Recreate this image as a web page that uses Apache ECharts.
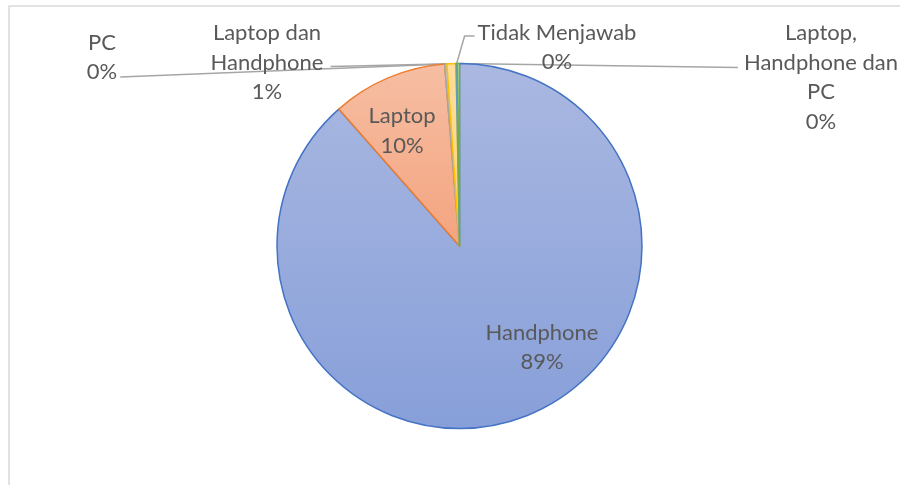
<!DOCTYPE html>
<html>
<head>
<meta charset="utf-8">
<script src="https://cdn.jsdelivr.net/npm/echarts@6/dist/echarts.min.js"></script>
<style>
  html, body { margin: 0; padding: 0; background: #ffffff; }
  #chart { width: 900px; height: 485px; }
</style>
</head>
<body>
<div id="chart"></div>
<script>
// Device used by respondents (share of answers, %)
const categories = [
  'Handphone',
  'Laptop',
  'PC',
  'Laptop dan\nHandphone',
  'Tidak Menjawab',
  'Laptop,\nHandphone dan\nPC'
];
const shares = [88.5, 10.2, 0.2, 0.8, 0.1, 0.2];

// Slice outline and gradient fill colours
const edgeColors = ['#4472C4', '#ED7D31', '#A5A5A5', '#FFC000', '#5B9BD5', '#70AD47'];
const fillTop    = ['#AAB8E1', '#F6BEA3', '#CBCBCB', '#FFDD9A', '#A9C9E8', '#B3D69C'];
const fillBottom = ['#879FD9', '#F4A47F', '#B9B9B9', '#FFD27A', '#8DB8E2', '#9CC97E'];

const total = shares.reduce((a, b) => a + b, 0);
const pctText = v => Math.round(+(v / total * 100).toFixed(6)) + '%';

// Centre of each label block (px)
const labelAnchors = [
  [542, 347.5],
  [402, 131],
  [102, 57.5],
  [267, 62.5],
  [557, 47.5],
  [821, 77.5]
];

const chart = echarts.init(document.getElementById('chart'), null, { renderer: 'canvas' });

const data = categories.map((name, i) => ({
  name: name,
  value: shares[i],
  itemStyle: {
    borderColor: edgeColors[i],
    borderWidth: 1.5,
    color: {
      type: 'linear', x: 0, y: 0, x2: 0, y2: 1,
      colorStops: [
        { offset: 0, color: fillTop[i] },
        { offset: 1, color: fillBottom[i] }
      ]
    }
  },
  labelLine: { show: i >= 2 }
}));

chart.setOption({
  animation: false,
  backgroundColor: '#ffffff',
  graphic: [{
    type: 'rect',
    silent: true,
    shape: { x: 9, y: 6, width: 920, height: 500 },
    style: { fill: 'none', stroke: '#D9D9D9', lineWidth: 1.5 }
  }],
  series: [{
    type: 'pie',
    center: [459.5, 246],
    radius: 182.5,
    startAngle: 90,
    clockwise: true,
    avoidLabelOverlap: false,
    minShowLabelAngle: 0,
    emphasis: { disabled: true },
    data: data,
    label: {
      show: true,
      position: 'outside',
      formatter: p => p.name + '\n' + pctText(p.value),
      fontFamily: 'Lato',
      fontSize: 22,
      lineHeight: 29.5,
      color: '#595959',
      align: 'center'
    },
    labelLine: {
      show: true,
      smooth: false,
      lineStyle: { color: '#A6A6A6', width: 1.5 }
    },
    labelLayout: function (p) {
      const i = p.dataIndex;
      const cx = labelAnchors[i][0];
      const cy = labelAnchors[i][1];
      const w = p.labelRect.width;
      const h = p.labelRect.height;
      const out = { x: cx, y: cy, align: 'center', verticalAlign: 'middle' };
      const pts = p.labelLinePoints;
      if (pts && pts.length) {
        const s = pts[0];
        if (i === 2) {
          out.labelLinePoints = [s, [cx + w / 2 + 3, cy + h / 2 - 10]];
        } else if (i === 3) {
          out.labelLinePoints = [s, [cx + w / 2 + 7, cy + 4]];
        } else if (i === 4) {
          const ex = cx - w / 2 - 3;
          const ey = cy - h / 2 + 18;
          out.labelLinePoints = [s, [ex - 10, ey], [ex, ey]];
        } else if (i === 5) {
          out.labelLinePoints = [s, [cx - w / 2 - 6, cy - 10]];
        }
      }
      return out;
    }
  }]
});
</script>
</body>
</html>
